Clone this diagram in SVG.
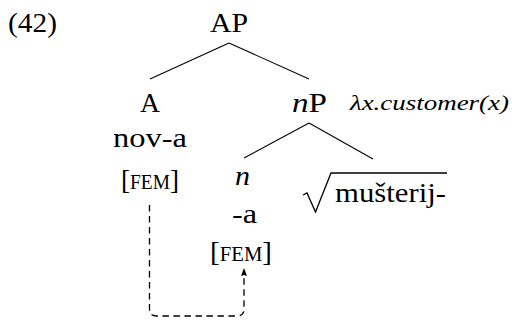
<svg xmlns="http://www.w3.org/2000/svg" width="512" height="320" viewBox="0 0 512 320">
<style>
text{font-family:"Liberation Serif","Times New Roman",serif;fill:#000;font-size:28px}
.it{font-style:italic}
.sc{font-variant:small-caps}
.lam{font-size:22px;font-style:italic}
.edge{stroke:#000;stroke-width:1.1;fill:none}
.dash{stroke:#000;stroke-width:1.3;fill:none;stroke-dasharray:6.5 4.5}
</style>
<rect width="512" height="320" fill="#fff"/>
<text id="exnum" x="8" y="32" textLength="49" lengthAdjust="spacingAndGlyphs">(42)</text>
<g id="connectors">
<line class="edge" x1="229" y1="43" x2="150" y2="79"/>
<line class="edge" x1="229" y1="43" x2="309" y2="79"/>
<line class="edge" x1="309" y1="123" x2="244" y2="158"/>
<line class="edge" x1="309" y1="123" x2="373" y2="159"/>
<path class="dash" d="M149.5 205 V309 Q149.5 316 156.5 316 H237 Q244 316 244 309 V276"/>
<path d="M244 268 L247 276 L244 275 L241 276 Z" fill="#000"/>
</g>
<g id="AP"><text x="210" y="32" textLength="38" lengthAdjust="spacingAndGlyphs">AP</text></g>
<g id="A">
<text x="140" y="112" textLength="20" lengthAdjust="spacingAndGlyphs">A</text>
<text x="113" y="147" textLength="74" lengthAdjust="spacingAndGlyphs">nov-a</text>
<text class="sc" x="121" y="189" textLength="58" lengthAdjust="spacingAndGlyphs">[fem]</text>
</g>
<g id="nP">
<text x="292" y="112" textLength="35" lengthAdjust="spacingAndGlyphs"><tspan class="it">n</tspan>P</text>
<text class="lam" x="350" y="110" textLength="159" lengthAdjust="spacingAndGlyphs">λx.customer(x)</text>
</g>
<g id="n">
<text class="it" x="235" y="185" textLength="15" lengthAdjust="spacingAndGlyphs">n</text>
<text x="232" y="223" textLength="25" lengthAdjust="spacingAndGlyphs">-a</text>
<text class="sc" x="210" y="261" textLength="62" lengthAdjust="spacingAndGlyphs">[fem]</text>
</g>
<g id="root">
<path d="M303 195 L307 193 L315.5 212 L331 173 H447" stroke="#000" stroke-width="1.3" fill="none" stroke-linejoin="miter"/>
<text x="335" y="202" textLength="111" lengthAdjust="spacingAndGlyphs">mušterij-</text>
</g>
</svg>
